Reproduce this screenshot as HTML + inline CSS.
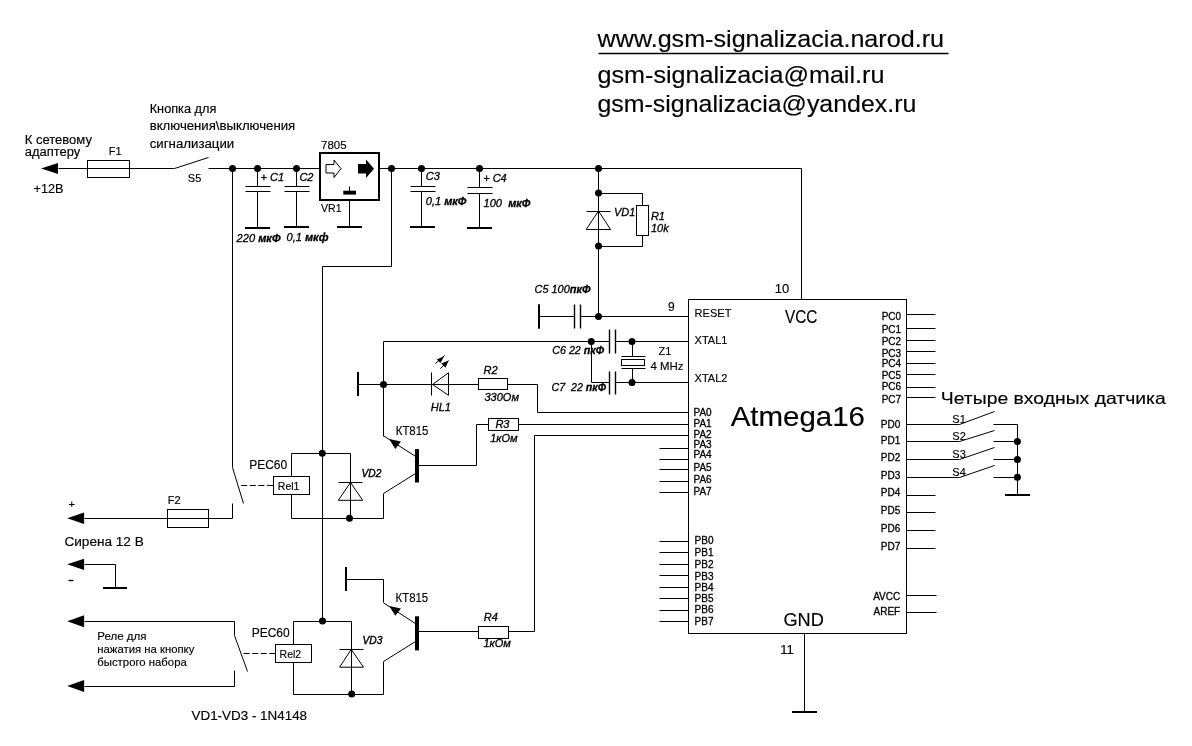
<!DOCTYPE html>
<html><head><meta charset="utf-8"><style>
html,body{margin:0;padding:0;background:#fff;}
svg{filter:grayscale(100%);}
svg{display:block;}
polyline,line,rect,polygon,circle{fill:none;stroke:#000;stroke-width:1;}
.f{fill:#000;stroke:none;}
text{font-family:"Liberation Sans",sans-serif;fill:#000;stroke:#000;stroke-width:0.15px;}
.b{stroke-width:0.4px;}
.s{stroke-width:0.3px;}
.i{stroke-width:0.3px;}
</style></head><body>
<svg width="1192" height="746" viewBox="0 0 1192 746">
<rect x="0" y="0" width="1192" height="746" style="fill:#fff;stroke:none"/>
<text x="597.6" y="46.8" font-size="24" textLength="346.4" lengthAdjust="spacingAndGlyphs">www.gsm-signalizacia.narod.ru</text>
<polyline points="598.5,53.5 948.5,53.5" style="stroke-width:1.4"/>
<text x="597.5" y="83.4" font-size="24" textLength="286.9" lengthAdjust="spacingAndGlyphs">gsm-signalizacia@mail.ru</text>
<text x="597.5" y="112.4" font-size="24" textLength="318.8" lengthAdjust="spacingAndGlyphs">gsm-signalizacia@yandex.ru</text>
<text x="24.7" y="144" font-size="12" textLength="67.3" lengthAdjust="spacingAndGlyphs">К сетевому</text>
<text x="24.7" y="155.7" font-size="12" textLength="55.5" lengthAdjust="spacingAndGlyphs">адаптеру</text>
<text x="33.6" y="192.5" font-size="12" textLength="29.9" lengthAdjust="spacingAndGlyphs">+12В</text>
<polygon class="f" points="41,168.5 58,162.9 58,174.1"/>
<polyline points="58.5,168.5 174.5,168.5"/>
<rect x="87.5" y="160.5" width="42.0" height="17.0"/>
<text x="108.7" y="154.9" font-size="11">F1</text>
<polyline points="174.5,168.5 208.5,157.5"/>
<text x="187.8" y="182" font-size="11">S5</text>
<text x="149.7" y="112.7" font-size="12" textLength="66.6" lengthAdjust="spacingAndGlyphs">Кнопка для</text>
<text x="149.7" y="129.9" font-size="12" textLength="145.5" lengthAdjust="spacingAndGlyphs">включения\выключения</text>
<text x="149.7" y="147.6" font-size="12" textLength="84.6" lengthAdjust="spacingAndGlyphs">сигнализации</text>
<polyline points="208.5,168.5 320.5,168.5"/>
<polyline points="379.5,168.5 801.5,168.5 801.5,299.5"/>
<circle class="f" cx="232.5" cy="168.5" r="3.5"/>
<circle class="f" cx="257.5" cy="168.5" r="3.5"/>
<circle class="f" cx="296.5" cy="168.5" r="3.5"/>
<circle class="f" cx="391.5" cy="168.5" r="3.5"/>
<circle class="f" cx="421.5" cy="168.5" r="3.5"/>
<circle class="f" cx="479.5" cy="168.5" r="3.5"/>
<circle class="f" cx="598.5" cy="168.5" r="3.5"/>
<polyline points="257.5,168.5 257.5,186.5"/>
<polyline points="245.5,186.5 270.5,186.5"/>
<polyline points="245.5,191.5 270.5,191.5"/>
<polyline points="257.5,191.5 257.5,228.5"/>
<rect class="f" x="245" y="227" width="25" height="2"/>
<polyline points="296.5,168.5 296.5,186.5"/>
<polyline points="284.5,186.5 309.5,186.5"/>
<polyline points="284.5,191.5 309.5,191.5"/>
<polyline points="296.5,191.5 296.5,227.5"/>
<rect class="f" x="284" y="226" width="25" height="2"/>
<polyline points="421.5,168.5 421.5,186.5"/>
<polyline points="410.5,186.5 435.5,186.5"/>
<polyline points="410.5,191.5 435.5,191.5"/>
<polyline points="421.5,191.5 421.5,227.5"/>
<rect class="f" x="410" y="226" width="25" height="2"/>
<polyline points="479.5,168.5 479.5,187.5"/>
<polyline points="467.5,187.5 492.5,187.5"/>
<polyline points="467.5,193.5 492.5,193.5"/>
<polyline points="479.5,193.5 479.5,228.5"/>
<rect class="f" x="467" y="227" width="25" height="2"/>
<text x="260.5" y="180.6" font-size="11" font-style="italic" class="i">+ C1</text>
<text x="299.4" y="180.6" font-size="11" font-style="italic" class="i">C2</text>
<text x="425.8" y="180.3" font-size="11" font-style="italic" class="i">C3</text>
<text x="483.2" y="181.8" font-size="11" font-style="italic" class="i">+ C4</text>
<text x="236.6" y="241.5" font-size="11" font-style="italic" textLength="44" lengthAdjust="spacingAndGlyphs" class="i">220 <tspan font-weight="bold">мкФ</tspan></text>
<text x="286.5" y="241" font-size="11" font-style="italic" textLength="42" lengthAdjust="spacingAndGlyphs" class="i">0,1 <tspan font-weight="bold">мкф</tspan></text>
<text x="425.8" y="204.8" font-size="11" font-style="italic" class="i">0,1 <tspan font-weight="bold">мкФ</tspan></text>
<text x="483.6" y="206.8" font-size="11" font-style="italic" textLength="46.9" lengthAdjust="spacingAndGlyphs" class="i">100  <tspan font-weight="bold">мкФ</tspan></text>
<rect x="320" y="153" width="59" height="47" style="stroke-width:2"/>
<text x="321" y="148.5" font-size="11.5">7805</text>
<text x="321" y="211.8" font-size="11.5" textLength="20.5" lengthAdjust="spacingAndGlyphs">VR1</text>
<polygon points="326,164.5 334,164.5 334,160 341,168.7 334,177.5 334,173 326,173"/>
<polygon class="f" points="358,164 366,164 366,159.4 374,168.7 366,178 366,173.4 358,173.4"/>
<polyline points="349.5,186.5 349.5,191.5"/>
<rect class="f" x="343.3" y="190.7" width="12.7" height="3.9"/>
<polyline points="349.5,199.5 349.5,227.5"/>
<rect class="f" x="337" y="226" width="25" height="2"/>
<polyline points="232.5,168.5 232.5,467.5"/>
<polyline points="391.5,168.5 391.5,266.5 322.5,266.5 322.5,621.5"/>
<polyline points="598.5,168.5 598.5,316.5"/>
<circle class="f" cx="598.5" cy="193" r="3.5"/>
<circle class="f" cx="598.5" cy="246" r="3.5"/>
<circle class="f" cx="598.5" cy="316.5" r="3.5"/>
<polyline points="586.5,211.5 610.5,211.5"/>
<polygon points="598.5,211 586.2,229.5 610.6,229.5"/>
<polyline points="598.5,193.5 642.5,193.5 642.5,205.5"/>
<rect x="636.5" y="205.5" width="12.0" height="30.0"/>
<polyline points="642.5,235.5 642.5,246.5 598.5,246.5"/>
<text x="614" y="216.4" font-size="11" font-style="italic" class="i">VD1</text>
<text x="650.9" y="219.9" font-size="11" font-style="italic" class="i">R1</text>
<text x="650.9" y="231.5" font-size="11" font-style="italic" class="i">10k</text>
<text x="534.5" y="293" font-size="11" font-style="italic" textLength="56" lengthAdjust="spacingAndGlyphs" class="i">C5 100<tspan font-weight="bold">пкФ</tspan></text>
<rect class="f" x="538" y="304.3" width="2" height="24.4"/>
<polyline points="539.5,316.5 574.5,316.5"/>
<polyline points="574.5,304.5 574.5,328.5" style="stroke-width:1.4"/>
<polyline points="580.5,304.5 580.5,328.5" style="stroke-width:1.4"/>
<polyline points="580.5,316.5 688.5,316.5"/>
<text x="668" y="310.9" font-size="12">9</text>
<polyline points="383.5,341.5 609.5,341.5"/>
<polyline points="609.5,329.5 609.5,353.5" style="stroke-width:1.4"/>
<polyline points="615.5,329.5 615.5,353.5" style="stroke-width:1.4"/>
<polyline points="615.5,341.5 688.5,341.5"/>
<circle class="f" cx="591.3" cy="341.5" r="3.5"/>
<polyline points="591.5,341.5 591.5,382.5 609.5,382.5"/>
<polyline points="609.5,371.5 609.5,394.5" style="stroke-width:1.4"/>
<polyline points="615.5,371.5 615.5,394.5" style="stroke-width:1.4"/>
<polyline points="615.5,382.5 688.5,382.5"/>
<circle class="f" cx="632" cy="341.5" r="3.5"/>
<circle class="f" cx="632" cy="382.5" r="3.5"/>
<polyline points="632.5,341.5 632.5,356.5"/>
<polyline points="621.5,356.5 645.5,356.5"/>
<rect x="621.5" y="359.5" width="23.0" height="6.0"/>
<polyline points="621.5,368.5 645.5,368.5"/>
<polyline points="632.5,368.5 632.5,382.5"/>
<text x="552.2" y="353.6" font-size="11" font-style="italic" textLength="52" lengthAdjust="spacingAndGlyphs" class="i">C6 22 <tspan font-weight="bold">пкФ</tspan></text>
<text x="551.5" y="390.9" font-size="11" font-style="italic" textLength="54.5" lengthAdjust="spacingAndGlyphs" class="i">C7  22 <tspan font-weight="bold">пкФ</tspan></text>
<text x="658.6" y="354.8" font-size="11">Z1</text>
<text x="650.5" y="369.6" font-size="11" textLength="33" lengthAdjust="spacingAndGlyphs">4 MHz</text>
<rect x="688.5" y="299.5" width="218.0" height="334.0"/>
<text x="774.7" y="292.9" font-size="13">10</text>
<polyline points="804.5,633.5 804.5,712.5"/>
<rect class="f" x="792" y="711" width="25" height="2"/>
<text x="780.3" y="653.9" font-size="13">11</text>
<text x="785" y="322.6" font-size="17.8" textLength="32.2" lengthAdjust="spacingAndGlyphs">VCC</text>
<text x="783.4" y="626.3" font-size="18.6" textLength="40.4" lengthAdjust="spacingAndGlyphs">GND</text>
<text x="730.7" y="426.3" font-size="28" textLength="134.2" lengthAdjust="spacingAndGlyphs">Atmega16</text>
<text x="694.6" y="317" font-size="11" textLength="36.8" lengthAdjust="spacingAndGlyphs">RESET</text>
<text x="694.6" y="344" font-size="11">XTAL1</text>
<text x="694.6" y="382" font-size="11">XTAL2</text>
<text x="693.5" y="416.40000000000003" font-size="10" class="s">PA0</text>
<text x="693.5" y="427.0" font-size="10" class="s">PA1</text>
<text x="693.5" y="437.5" font-size="10" class="s">PA2</text>
<polyline points="659.5,448.5 688.5,448.5"/>
<text x="693.5" y="448.1" font-size="10" class="s">PA3</text>
<polyline points="659.5,459.5 688.5,459.5"/>
<text x="693.5" y="457.90000000000003" font-size="10" class="s">PA4</text>
<polyline points="659.5,469.5 688.5,469.5"/>
<text x="693.5" y="471.3" font-size="10" class="s">PA5</text>
<polyline points="659.5,481.5 688.5,481.5"/>
<text x="693.5" y="482.5" font-size="10" class="s">PA6</text>
<polyline points="659.5,492.5 688.5,492.5"/>
<text x="693.5" y="494.5" font-size="10" class="s">PA7</text>
<polyline points="659.5,541.5 688.5,541.5"/>
<text x="694.6" y="543.8" font-size="10" class="s">PB0</text>
<polyline points="659.5,552.5 688.5,552.5"/>
<text x="694.6" y="555.5" font-size="10" class="s">PB1</text>
<polyline points="659.5,564.5 688.5,564.5"/>
<text x="694.6" y="567.7" font-size="10" class="s">PB2</text>
<polyline points="659.5,575.5 688.5,575.5"/>
<text x="694.6" y="579.7" font-size="10" class="s">PB3</text>
<polyline points="659.5,587.5 688.5,587.5"/>
<text x="694.6" y="590.5" font-size="10" class="s">PB4</text>
<polyline points="659.5,598.5 688.5,598.5"/>
<text x="694.6" y="602.2" font-size="10" class="s">PB5</text>
<polyline points="659.5,610.5 688.5,610.5"/>
<text x="694.6" y="613.4" font-size="10" class="s">PB6</text>
<polyline points="659.5,621.5 688.5,621.5"/>
<text x="694.6" y="625.4" font-size="10" class="s">PB7</text>
<polyline points="906.5,314.5 935.5,314.5"/>
<text x="901.1" y="320" font-size="10" text-anchor="end" class="s">PC0</text>
<polyline points="906.5,328.5 935.5,328.5"/>
<text x="901.1" y="332.5" font-size="10" text-anchor="end" class="s">PC1</text>
<polyline points="906.5,340.5 935.5,340.5"/>
<text x="901.1" y="344.6" font-size="10" text-anchor="end" class="s">PC2</text>
<polyline points="906.5,351.5 935.5,351.5"/>
<text x="901.1" y="356.6" font-size="10" text-anchor="end" class="s">PC3</text>
<polyline points="906.5,363.5 935.5,363.5"/>
<text x="901.1" y="367.4" font-size="10" text-anchor="end" class="s">PC4</text>
<polyline points="906.5,374.5 935.5,374.5"/>
<text x="901.1" y="379.4" font-size="10" text-anchor="end" class="s">PC5</text>
<polyline points="906.5,387.5 935.5,387.5"/>
<text x="901.1" y="390.4" font-size="10" text-anchor="end" class="s">PC6</text>
<polyline points="906.5,397.5 935.5,397.5"/>
<text x="901.1" y="402.5" font-size="10" text-anchor="end" class="s">PC7</text>
<polyline points="906.5,424.5 959.5,424.5"/>
<text x="900.2" y="428.3" font-size="10" text-anchor="end" class="s">PD0</text>
<polyline points="906.5,441.5 959.5,441.5"/>
<text x="900.2" y="443.6" font-size="10" text-anchor="end" class="s">PD1</text>
<polyline points="906.5,459.5 959.5,459.5"/>
<text x="900.2" y="461.4" font-size="10" text-anchor="end" class="s">PD2</text>
<polyline points="906.5,477.5 959.5,477.5"/>
<text x="900.2" y="479.2" font-size="10" text-anchor="end" class="s">PD3</text>
<polyline points="906.5,495.5 935.5,495.5"/>
<text x="900.2" y="496.3" font-size="10" text-anchor="end" class="s">PD4</text>
<polyline points="906.5,512.5 935.5,512.5"/>
<text x="900.2" y="514.3" font-size="10" text-anchor="end" class="s">PD5</text>
<polyline points="906.5,530.5 935.5,530.5"/>
<text x="900.2" y="532.4" font-size="10" text-anchor="end" class="s">PD6</text>
<polyline points="906.5,548.5 935.5,548.5"/>
<text x="900.2" y="550.3" font-size="10" text-anchor="end" class="s">PD7</text>
<polyline points="906.5,595.5 936.5,595.5"/>
<polyline points="906.5,612.5 936.5,612.5"/>
<text x="900.2" y="600.4" font-size="10" text-anchor="end" class="s">AVCC</text>
<text x="900.2" y="615.2" font-size="10" text-anchor="end" class="s">AREF</text>
<polyline points="959.5,424.5 994.5,411.5"/>
<polyline points="993.5,424.5 1017.5,424.5"/>
<text x="952.3" y="422.8" font-size="11">S1</text>
<polyline points="959.5,441.5 994.5,430.5"/>
<polyline points="993.5,441.5 1017.5,441.5"/>
<text x="952.3" y="439.90000000000003" font-size="11">S2</text>
<polyline points="959.5,459.5 994.5,447.5"/>
<polyline points="993.5,459.5 1017.5,459.5"/>
<text x="952.3" y="457.7" font-size="11">S3</text>
<polyline points="959.5,477.5 994.5,465.5"/>
<polyline points="993.5,477.5 1017.5,477.5"/>
<text x="952.3" y="475.6" font-size="11">S4</text>
<polyline points="1017.5,424.5 1017.5,494.5"/>
<rect class="f" x="1005" y="494" width="25" height="2"/>
<circle class="f" cx="1017.4" cy="441.6" r="3.5"/>
<circle class="f" cx="1017.4" cy="459.4" r="3.5"/>
<circle class="f" cx="1017.4" cy="477.3" r="3.5"/>
<text x="940.8" y="403.6" font-size="16.5" textLength="225" lengthAdjust="spacingAndGlyphs">Четыре входных датчика</text>
<rect class="f" x="357" y="372" width="2" height="24"/>
<polyline points="357.5,384.5 478.5,384.5"/>
<circle class="f" cx="383.5" cy="384.5" r="3.5"/>
<polyline points="383.5,341.5 383.5,436.5"/>
<polyline points="431.5,372.5 431.5,395.5"/>
<polygon points="432.5,384.5 448.5,372.8 448.5,395.3"/>
<rect x="478.5" y="378.5" width="29.0" height="11.0"/>
<polyline points="507.5,384.5 537.5,384.5 537.5,412.5 688.5,412.5"/>
<polyline points="435.4,363.6 444.6,355.4"/>
<polygon class="f" points="444.2,356.2 436.8,359.4 440.4,363"/>
<polyline points="440.4,368.6 448.6,360.7"/>
<polygon class="f" points="448.6,360.6 441.2,363.4 445.5,367.8"/>
<text x="483.6" y="373.6" font-size="11" font-style="italic" class="i">R2</text>
<text x="484.5" y="401.2" font-size="11" font-style="italic" class="i">330Ом</text>
<text x="430.7" y="411.2" font-size="11" font-style="italic" class="i">HL1</text>
<polyline points="383.5,435.8 415.2,456.2"/>
<polygon class="f" points="389.1,439 401,441.4 395.3,448.9"/>
<rect class="f" x="415" y="449.1" width="4" height="33.4"/>
<polyline points="415.5,473.5 383.5,493.5 383.5,518.5 291.5,518.5"/>
<polyline points="416.5,465.5 476.5,465.5 476.5,424.5 488.5,424.5"/>
<rect x="488.5" y="418.5" width="30.0" height="12.0"/>
<polyline points="518.5,424.5 688.5,424.5"/>
<text x="395.8" y="434.5" font-size="12" textLength="32.5" lengthAdjust="spacingAndGlyphs">КТ815</text>
<text x="495.4" y="427.6" font-size="11" font-style="italic" class="i">R3</text>
<text x="490.2" y="442.2" font-size="11" font-style="italic" class="i">1кОм</text>
<polyline points="534.5,435.5 688.5,435.5"/>
<polyline points="534.5,435.5 534.5,631.5 508.5,631.5"/>
<polyline points="291.5,476.5 291.5,453.5 350.5,453.5 350.5,518.5"/>
<circle class="f" cx="322.3" cy="453.2" r="3.5"/>
<rect x="273.5" y="476.5" width="36.0" height="18.0"/>
<polyline points="291.5,494.5 291.5,518.5"/>
<polyline points="338.5,482.5 362.5,482.5"/>
<polygon points="350.5,482.5 338.3,500.3 362.7,500.3"/>
<circle class="f" cx="349.5" cy="518.3" r="3.5"/>
<text x="249.2" y="469" font-size="12">РЕС60</text>
<text x="277.8" y="489.7" font-size="11.5" textLength="21.6" lengthAdjust="spacingAndGlyphs">Rel1</text>
<text x="361.5" y="476.8" font-size="10" font-style="italic" textLength="19.8" lengthAdjust="spacingAndGlyphs" class="b">VD2</text>
<line x1="241.2" y1="485.5" x2="273.1" y2="485.5" stroke-dasharray="6,2.6"/>
<polyline points="232.5,467.5 243.5,503.5"/>
<polyline points="232.5,503.5 232.5,518.5 84.5,518.5"/>
<rect x="167.5" y="509.5" width="41.0" height="18.0"/>
<text x="167.7" y="504.4" font-size="11">F2</text>
<polygon class="f" points="67.2,518.2 84.1,512.4000000000001 84.1,524.0"/>
<text x="68.6" y="508" font-size="11">+</text>
<text x="64.4" y="545.7" font-size="12" textLength="79.4" lengthAdjust="spacingAndGlyphs">Сирена 12 В</text>
<polygon class="f" points="67.2,564.3 84.1,558.6999999999999 84.1,569.9"/>
<polyline points="84.5,564.5 115.5,564.5 115.5,588.5"/>
<rect class="f" x="103" y="587" width="24" height="2"/>
<polyline points="68.5,580.5 73.5,580.5" style="stroke-width:1.3"/>
<circle class="f" cx="322.5" cy="621" r="3.5"/>
<polyline points="293.5,644.5 293.5,621.5 351.5,621.5 351.5,694.5"/>
<rect x="275.5" y="644.5" width="36.0" height="18.0"/>
<polyline points="293.5,662.5 293.5,694.5 383.5,694.5 383.5,661.5 415.5,641.5"/>
<polyline points="339.5,649.5 363.5,649.5"/>
<polygon points="351.2,649.4 339.6,667.2 363.5,667.2"/>
<circle class="f" cx="351.7" cy="694.1" r="3.5"/>
<text x="251.7" y="637.4" font-size="12">РЕС60</text>
<text x="279.6" y="657.6" font-size="11.5" textLength="21.6" lengthAdjust="spacingAndGlyphs">Rel2</text>
<text x="362.5" y="643.8" font-size="10" font-style="italic" textLength="19.8" lengthAdjust="spacingAndGlyphs" class="b">VD3</text>
<line x1="243.6" y1="653.5" x2="275.3" y2="653.5" stroke-dasharray="6,2.6"/>
<polyline points="84.5,621.5 234.5,621.5 234.5,635.5 247.5,671.5"/>
<polyline points="234.5,670.5 234.5,686.5 84.5,686.5"/>
<polygon class="f" points="67.2,621.2 84.1,615.2 84.1,627.2"/>
<polygon class="f" points="67.2,686 84.1,680 84.1,692"/>
<text x="97.3" y="639.6" font-size="11.3" textLength="49.2" lengthAdjust="spacingAndGlyphs">Реле для</text>
<text x="97.3" y="652.8" font-size="11.3" textLength="97" lengthAdjust="spacingAndGlyphs">нажатия на кнопку</text>
<text x="97.3" y="666.4" font-size="11.3" textLength="89.5" lengthAdjust="spacingAndGlyphs">быстрого набора</text>
<text x="191.5" y="719.6" font-size="12.5" textLength="115.6" lengthAdjust="spacingAndGlyphs">VD1-VD3 - 1N4148</text>
<rect class="f" x="345" y="567" width="2" height="24"/>
<polyline points="346.5,579.5 383.5,579.5 383.5,602.5"/>
<polyline points="383.5,602.8 415.2,623.4"/>
<polygon class="f" points="389.3,606 400.9,608.5 395.3,615.7"/>
<rect class="f" x="415" y="616.3" width="4" height="34.1"/>
<polyline points="416.5,631.5 478.5,631.5"/>
<rect x="478.5" y="626.5" width="30.0" height="12.0"/>
<text x="395.6" y="601.5" font-size="12" textLength="32.5" lengthAdjust="spacingAndGlyphs">КТ815</text>
<text x="483.8" y="621.4" font-size="11" font-style="italic" class="i">R4</text>
<text x="483.5" y="646.7" font-size="11" font-style="italic" class="i">1кОм</text>
</svg></body></html>
